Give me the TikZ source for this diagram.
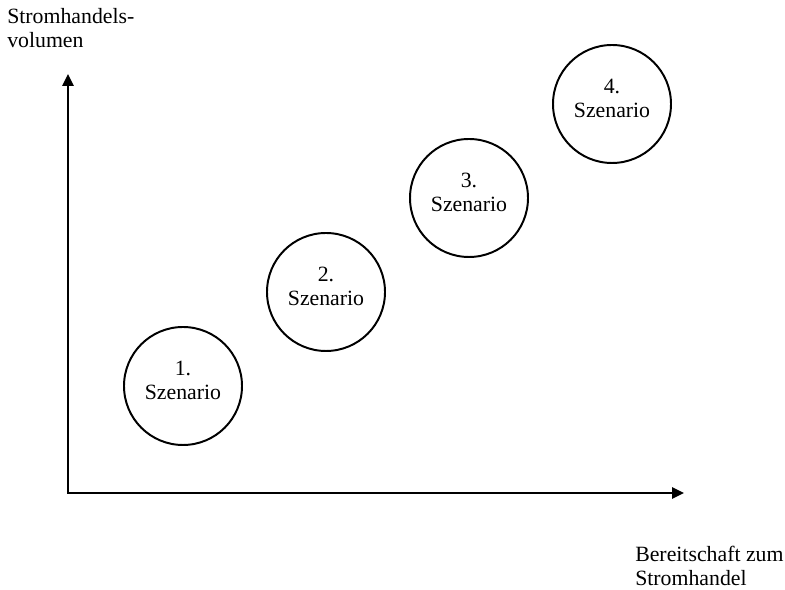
\documentclass[tikz,border=0pt]{standalone}
\usepackage{fontspec}
\setmainfont{Liberation Serif}
\usetikzlibrary{arrows.meta}

\begin{document}
\begin{tikzpicture}[>={Triangle[length=8.5pt,width=8pt]},
    font=\fontsize{15.5pt}{17pt}\selectfont,
    szenario/.style={draw,circle,line width=1.4pt,minimum size=2.95cm,inner sep=0pt},
    szentext/.style={align=center,inner sep=0pt},
    axislabel/.style={anchor=north west,align=left,inner sep=0pt}]
    \useasboundingbox (0,0) rectangle (19.625,14.75);

    % Axis
    \coordinate (O) at (1.7,2.425);
    \coordinate (ytip) at (1.7,12.9);
    \coordinate (xtip) at (17.1,2.425);
    \draw[<->,line width=1.2pt] (ytip) -- (O) -- (xtip);
    \node[axislabel] (ylabel) at (0.175,14.55) {Stromhandels-\\volumen};
    \node[axislabel] (xlabel) at (15.875,1.1) {Bereitschaft zum\\Stromhandel};

    % Scenarios (circles)
    \node[szenario] (s1) at (4.575,5.1) {};
    \node[szenario] (s2) at (8.15,7.45) {};
    \node[szenario] (s3) at (11.725,9.8) {};
    \node[szenario] (s4) at (15.3,12.15) {};

    % Scenario texts
    \node[szentext] (t1) at ([yshift=0.15cm]s1.center) {1.\\Szenario};
    \node[szentext] (t2) at ([yshift=0.15cm]s2.center) {2.\\Szenario};
    \node[szentext] (t3) at ([yshift=0.15cm]s3.center) {3.\\Szenario};
    \node[szentext] (t4) at ([yshift=0.15cm]s4.center) {4.\\Szenario};
\end{tikzpicture}
\end{document}
